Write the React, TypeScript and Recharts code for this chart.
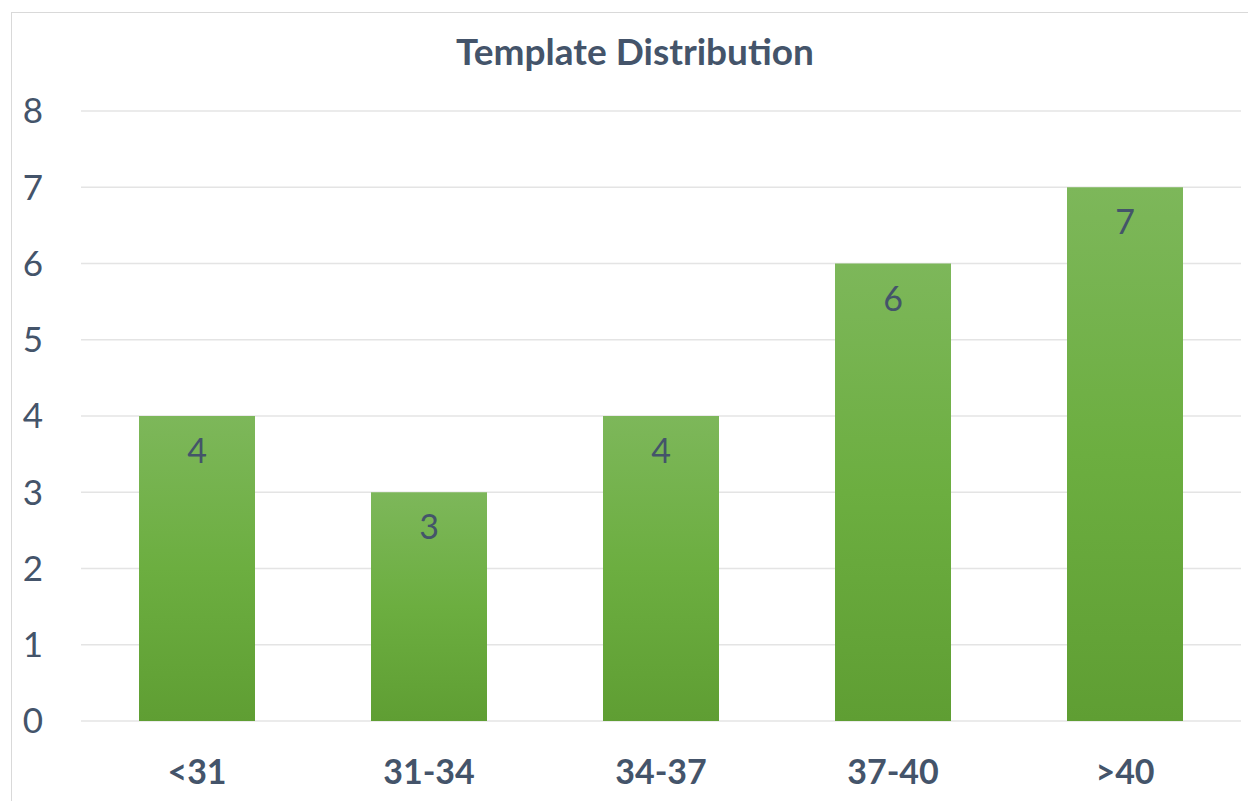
import { BarChart, Bar, XAxis, YAxis, CartesianGrid, LabelList } from "recharts";

const categories = ["<31", "31-34", "34-37", "37-40", ">40"];
const counts = [4, 3, 4, 6, 7];
const yTicks = [0, 1, 2, 3, 4, 5, 6, 7, 8];

const data = categories.map((range, i) => ({ range, count: counts[i] }));

const TEXT = "#44546a";
const FONT = "Lato, 'Open Sans', sans-serif";

export default function App() {
  return (
    <div style={{ position: "absolute", left: 0, top: 0, width: 1248, height: 801, background: "#fff", fontFamily: FONT }}>
      {/* chart area frame, cropped on the right and bottom */}
      <div
        style={{
          position: "absolute",
          left: 11,
          top: 12,
          width: 1248,
          height: 801,
          borderLeft: "1px solid #d9d9d9",
          borderTop: "1px solid #d9d9d9",
        }}
      />
      <div
        style={{
          position: "absolute",
          left: 0,
          width: 1270,
          top: 29,
          textAlign: "center",
          fontSize: 37,
          fontWeight: 700,
          color: TEXT,
          lineHeight: "44px",
        }}
      >
        Template Distribution
      </div>
      <div style={{ position: "absolute", left: 0, top: 0 }}>
        <BarChart
          width={1248}
          height={801}
          data={data}
          margin={{ top: 111, right: 7, bottom: 0, left: 0 }}
          barCategoryGap="25%"
        >
          <defs>
            <linearGradient id="barFill" x1="0" y1="0" x2="0" y2="1">
              <stop offset="0%" stopColor="#7db75a" />
              <stop offset="50%" stopColor="#6cae40" />
              <stop offset="100%" stopColor="#5f9e33" />
            </linearGradient>
          </defs>
          <CartesianGrid vertical={false} stroke="#e4e4e4" strokeWidth={1.5} />
          <XAxis
            dataKey="range"
            height={80}
            axisLine={false}
            tickLine={false}
            tickMargin={33}
            tick={{ fill: TEXT, fontSize: 34, fontWeight: 700, fontFamily: FONT }}
          />
          <YAxis
            width={81}
            domain={[0, 8]}
            ticks={yTicks}
            axisLine={false}
            tickLine={false}
            tickMargin={32}
            tick={{ fill: TEXT, fontSize: 35, fontFamily: FONT }}
          />
          <Bar dataKey="count" fill="url(#barFill)" isAnimationActive={false}>
            <LabelList
              dataKey="count"
              position="insideTop"
              offset={23}
              fill={TEXT}
              fontSize={34}
              fontFamily={FONT}
            />
          </Bar>
        </BarChart>
      </div>
    </div>
  );
}
